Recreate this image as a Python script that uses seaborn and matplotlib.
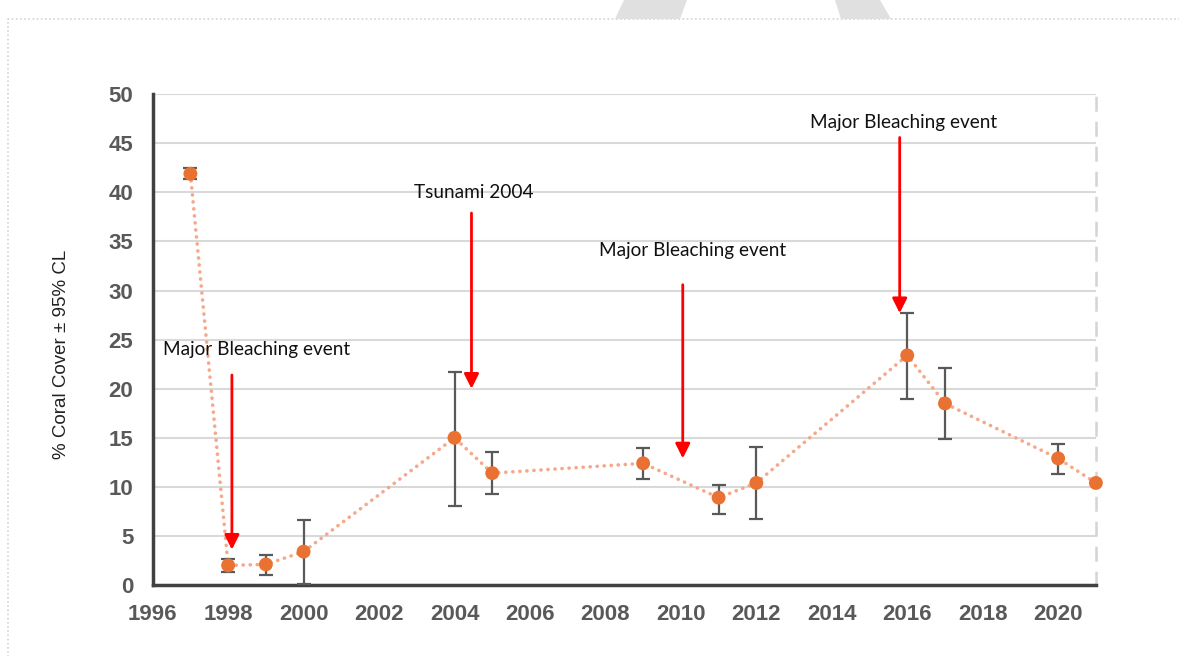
import numpy as np
import pandas as pd
import matplotlib
matplotlib.use('Agg')
import matplotlib.pyplot as plt
from matplotlib.patches import Polygon, Rectangle
import seaborn as sns

# Data
years = [1997, 1998, 1999, 2000, 2004, 2005, 2009, 2011, 2012, 2016, 2017, 2020, 2021]
cover = [41.9, 2.0, 2.1, 3.4, 15.0, 11.4, 12.4, 8.9, 10.4, 23.4, 18.5, 12.9, 10.4]
lower_cl = [41.35, 1.3, 1.0, 0.1, 8.1, 9.3, 10.8, 7.2, 6.7, 19.0, 14.9, 11.3, np.nan]
upper_cl = [42.5, 2.65, 3.1, 6.65, 21.7, 13.6, 14.0, 10.2, 14.1, 27.7, 22.1, 14.4, np.nan]

# Event annotations
event_labels = ['Major Bleaching event', 'Tsunami 2004', 'Major Bleaching event', 'Major Bleaching event']
event_x = [1998.1, 2004.45, 2010.05, 2015.8]
arrow_top = [21.4, 37.9, 30.6, 45.6]
arrow_tip = [3.6, 20.0, 12.9, 27.7]
label_x = [1996.27, 2002.92, 2007.84, 2013.43]
label_y = [24.0, 40.0, 34.1, 47.1]

df = pd.DataFrame({'year': years, 'cover': cover, 'lo': lower_cl, 'hi': upper_cl})

sns.set_theme(style='white')
plt.rcParams['font.family'] = ['Liberation Sans', 'DejaVu Sans']

fig = plt.figure(figsize=(11.79, 6.56), dpi=100)
ax = fig.add_axes([0.1295, 0.1082, 0.8, 0.7481])

# figure decorations (dotted frame and grey shapes at top)
fig.patches.append(Rectangle((8 / 1179, -0.1), 1.2, 1 - 19 / 656 + 0.1, transform=fig.transFigure,
                             fill=False, edgecolor='#D4D4D4', linestyle=(0, (1, 1.5)), lw=1.2))
fig.patches.append(Polygon([(615 / 1179, 1 - 19 / 656), (624 / 1179, 1), (687 / 1179, 1), (680 / 1179, 1 - 19 / 656)],
                           closed=True, transform=fig.transFigure, facecolor='#E0E0E0', edgecolor='none'))
fig.patches.append(Polygon([(835 / 1179, 1), (880 / 1179, 1), (891 / 1179, 1 - 19 / 656), (841 / 1179, 1 - 19 / 656)],
                           closed=True, transform=fig.transFigure, facecolor='#E0E0E0', edgecolor='none'))

ax.grid(axis='y', color='#D9D9D9', lw=1.5, zorder=0)
ax.set_axisbelow(True)

sns.lineplot(data=df, x='year', y='cover', ax=ax, color='#F5A98A', lw=2.6,
             linestyle=(0, (0.05, 1.9)), dash_capstyle='round', zorder=2)
err = np.array([df['cover'] - df['lo'], df['hi'] - df['cover']])
ax.errorbar(df['year'], df['cover'], yerr=err, fmt='none', ecolor='#595959',
            elinewidth=1.6, capsize=5, capthick=1.6, zorder=3)
sns.scatterplot(data=df, x='year', y='cover', ax=ax, color='#E97132', s=100,
                edgecolor='none', zorder=4, clip_on=False)

for lab, x, t0, t1, lx, ly in zip(event_labels, event_x, arrow_top, arrow_tip, label_x, label_y):
    ax.annotate('', xy=(x, t1), xytext=(x, t0),
                arrowprops=dict(arrowstyle='-|>', color='#FF0000', lw=2.0,
                                mutation_scale=22, shrinkA=0, shrinkB=0))
    ax.text(lx, ly, lab, fontsize=13.7, family=['Lato', 'DejaVu Sans'], color='#111111',
            ha='left', va='center')

ax.set_xlim(1996, 2021)
ax.set_ylim(0, 50)
ax.set_xticks(range(1996, 2021, 2))
ax.set_yticks(range(0, 51, 5))
ax.set_xlabel('')
ax.set_ylabel('% Coral Cover ± 95% CL', fontsize=13.5, color='#222222')
ax.yaxis.set_label_coords(-0.088, 0.47)

ax.tick_params(axis='both', direction='in', length=7, width=2.2, color='#404040',
               labelsize=16, labelcolor='#595959', pad=14)
for t in ax.get_xticklabels() + ax.get_yticklabels():
    t.set_fontweight('bold')

for s in ['left', 'bottom']:
    ax.spines[s].set_color('#404040')
    ax.spines[s].set_linewidth(2.5)
ax.spines['top'].set_visible(False)
ax.spines['right'].set_color('#D4D4D4')
ax.spines['right'].set_linewidth(1.8)
ax.spines['right'].set_linestyle((0, (5, 5)))

fig.savefig('out.png', dpi=100)
